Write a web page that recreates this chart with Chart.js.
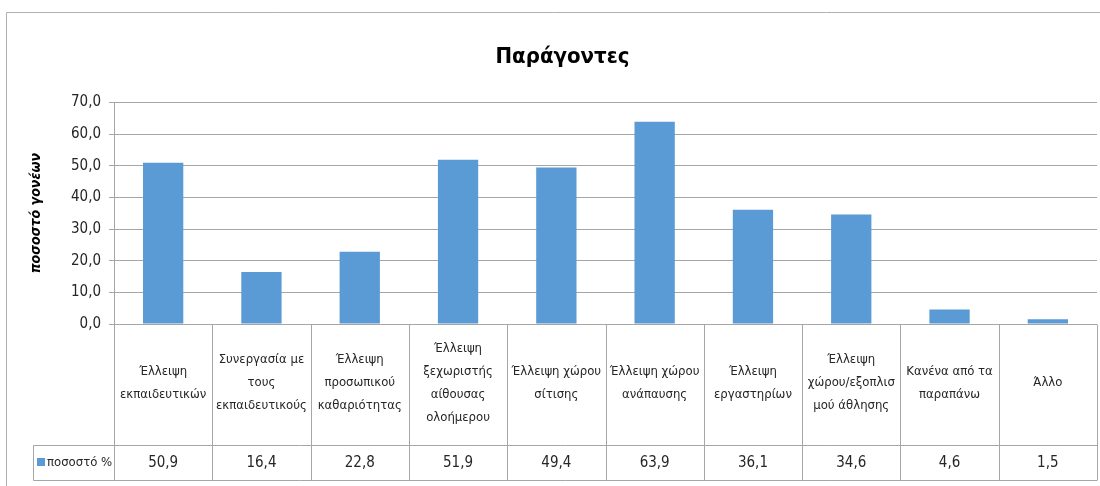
<!DOCTYPE html>
<html>
<head>
<meta charset="utf-8">
<script src="https://cdn.jsdelivr.net/npm/chart.js@4"></script>
<style>
  html, body { margin: 0; padding: 0; background: #fff; }
  #wrap { width: 1100px; height: 486px; position: relative; }
</style>
</head>
<body>
<div id="wrap"><canvas id="factorsChart"></canvas></div>
<script>
// chart data
const categories = [
    ['Έλλειψη', 'εκπαιδευτικών'],
    ['Συνεργασία με', 'τους', 'εκπαιδευτικούς'],
    ['Έλλειψη', 'προσωπικού', 'καθαριότητας'],
    ['Έλλειψη', 'ξεχωριστής', 'αίθουσας', 'ολοήμερου'],
    ['Έλλειψη χώρου', 'σίτισης'],
    ['Έλλειψη χώρου', 'ανάπαυσης'],
    ['Έλλειψη', 'εργαστηρίων'],
    ['Έλλειψη', 'χώρου/εξοπλισ', 'μού άθλησης'],
    ['Κανένα από τα', 'παραπάνω'],
    ['Άλλο']
];
const percentValues = [50.9, 16.4, 22.8, 51.9, 49.4, 63.9, 36.1, 34.6, 4.6, 1.5];
const seriesName = 'ποσοστό %';
const chartTitle = 'Παράγοντες';
const yAxisTitle = 'ποσοστό γονέων';

const FONT = "'DejaVu Sans Condensed', 'Liberation Sans Narrow', sans-serif";
const BAR_COLOR = '#5b9bd5';
const LINE_COLOR = '#a6a6a6';

const fmt = v => v.toFixed(1).replace('.', ',');

// draws the Excel style data table under the plot
const dataTable = {
    id: 'dataTable',
    beforeDraw(chart) {
        const ctx = chart.ctx;
        ctx.save();
        // outer chart frame
        ctx.strokeStyle = '#b0b0b0';
        ctx.lineWidth = 1;
        ctx.beginPath();
        ctx.moveTo(6.5, 12.5); ctx.lineTo(1100, 12.5);
        ctx.moveTo(6.5, 12.5); ctx.lineTo(6.5, 486);
        ctx.stroke();
        ctx.restore();
    },
    afterDraw(chart) {
        const ctx = chart.ctx;
        const x = chart.scales.x;
        const area = chart.chartArea;
        const top = Math.round(area.bottom) + 0.5;
        const mid = 445.5;
        const bottom = 480.5;
        const legendLeft = 33.5;
        const step = (area.right - area.left) / categories.length;

        ctx.save();
        ctx.strokeStyle = LINE_COLOR;
        ctx.lineWidth = 1;
        ctx.beginPath();
        ctx.moveTo(area.left, top); ctx.lineTo(area.right, top);
        ctx.moveTo(legendLeft, mid); ctx.lineTo(area.right, mid);
        ctx.moveTo(legendLeft, bottom); ctx.lineTo(area.right, bottom);
        ctx.moveTo(legendLeft, mid); ctx.lineTo(legendLeft, bottom);
        for (let i = 0; i <= categories.length; i++) {
            const lx = Math.round(area.left + i * step) + 0.5;
            ctx.moveTo(lx, top); ctx.lineTo(lx, bottom);
        }
        ctx.stroke();

        ctx.fillStyle = '#262626';
        ctx.textAlign = 'center';
        ctx.textBaseline = 'middle';
        ctx.font = '13px ' + FONT;
        const lineH = 23;
        categories.forEach((lines, i) => {
            const cx = x.getPixelForValue(i);
            const cy = (top + mid) / 2 - 2;
            const startY = cy - (lines.length - 1) * lineH / 2;
            lines.forEach((t, j) => ctx.fillText(t, cx, startY + j * lineH));
        });

        ctx.font = '15px ' + FONT;
        percentValues.forEach((v, i) => {
            ctx.fillText(fmt(v), x.getPixelForValue(i), (mid + bottom) / 2);
        });

        // legend key in the first column
        ctx.fillStyle = BAR_COLOR;
        ctx.fillRect(37, 458, 8, 8);
        ctx.fillStyle = '#262626';
        ctx.textAlign = 'left';
        ctx.font = '13px ' + FONT;
        ctx.fillText(seriesName, 47, (mid + bottom) / 2);
        ctx.restore();
    }
};

const ctx = document.getElementById('factorsChart').getContext('2d');
new Chart(ctx, {
    type: 'bar',
    data: {
        labels: categories.map(c => c.join(' ')),
        datasets: [{
            label: seriesName,
            data: percentValues,
            backgroundColor: BAR_COLOR,
            borderWidth: 0,
            categoryPercentage: 1,
            barPercentage: 0.41
        }]
    },
    options: {
        responsive: true,
        maintainAspectRatio: false,
        animation: false,
        layout: {
            padding: { left: 28, right: 3, top: 0, bottom: 162 }
        },
        plugins: {
            legend: { display: false },
            tooltip: { enabled: false },
            title: {
                display: true,
                text: chartTitle,
                color: '#000',
                font: { family: FONT, size: 22, weight: 'bold' },
                padding: { top: 44, bottom: 32 }
            }
        },
        scales: {
            x: {
                display: false
            },
            y: {
                min: 0,
                max: 70,
                afterFit(scale) { scale.width = 86; },
                ticks: {
                    stepSize: 10,
                    padding: 8,
                    color: '#262626',
                    font: { family: FONT, size: 15 },
                    callback: v => fmt(v)
                },
                grid: {
                    color: LINE_COLOR,
                    lineWidth: 1,
                    tickLength: 5
                },
                border: { color: LINE_COLOR, width: 1 },
                title: {
                    display: true,
                    text: yAxisTitle,
                    color: '#000',
                    font: { family: FONT, size: 14, weight: 'bold', style: 'italic' },
                    padding: { top: 0, bottom: 0 }
                }
            }
        }
    },
    plugins: [dataTable]
});
</script>
</body>
</html>
